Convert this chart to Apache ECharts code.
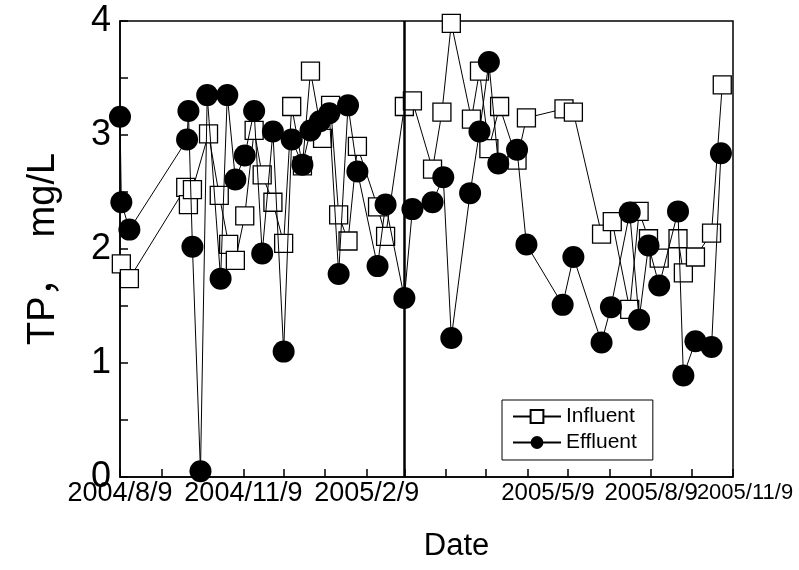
<!DOCTYPE html>
<html>
<head>
<meta charset="utf-8">
<script src="https://cdn.jsdelivr.net/npm/echarts@6/dist/echarts.min.js"></script>
<style>
html,body{margin:0;padding:0;background:#fff;}
#chart{width:799px;height:570px;}
</style>
</head>
<body>
<div id="chart"></div>
<script>
// ---- data ----
const influentDates = ['2004-08-10','2004-08-16','2004-09-27','2004-09-29','2004-10-02','2004-10-14','2004-10-22','2004-10-29','2004-11-03','2004-11-10','2004-11-17','2004-11-23','2004-12-01','2004-12-09','2004-12-15','2004-12-23','2004-12-29','2005-01-07','2005-01-13','2005-01-19','2005-01-26','2005-02-02','2005-02-17','2005-02-23','2005-03-09','2005-03-15','2005-03-30','2005-04-06','2005-04-13','2005-04-28','2005-05-04','2005-05-11','2005-05-19','2005-06-01','2005-06-08','2005-07-06','2005-07-13','2005-08-03','2005-08-11','2005-08-24','2005-08-31','2005-09-07','2005-09-15','2005-09-29','2005-10-03','2005-10-12','2005-10-24','2005-11-01'];
const influentValues = [1.87,1.74,2.54,2.39,2.52,3.01,2.47,2.04,1.90,2.29,3.04,2.65,2.41,2.05,3.25,2.73,3.56,2.97,3.26,2.30,2.07,2.90,2.37,2.11,3.25,3.30,2.70,3.20,3.98,3.14,3.56,2.88,3.25,2.78,3.15,3.23,3.20,2.13,2.24,1.47,2.33,2.09,1.92,2.09,1.79,1.93,2.14,3.44];

const effluentDates = ['2004-08-09','2004-08-10','2004-08-16','2004-09-28','2004-09-29','2004-10-02','2004-10-08','2004-10-13','2004-10-23','2004-10-28','2004-11-03','2004-11-10','2004-11-17','2004-11-23','2004-12-01','2004-12-09','2004-12-15','2004-12-23','2004-12-29','2005-01-05','2005-01-12','2005-01-19','2005-01-26','2005-02-02','2005-02-17','2005-02-23','2005-03-09','2005-03-15','2005-03-30','2005-04-07','2005-04-13','2005-04-27','2005-05-04','2005-05-11','2005-05-18','2005-06-01','2005-06-08','2005-07-05','2005-07-13','2005-08-03','2005-08-10','2005-08-24','2005-08-31','2005-09-07','2005-09-15','2005-09-29','2005-10-03','2005-10-12','2005-10-24','2005-10-31'];
const effluentValues = [3.16,2.41,2.17,2.96,3.21,2.02,0.05,3.35,1.74,3.35,2.61,2.82,3.21,1.96,3.03,1.10,2.96,2.74,3.04,3.12,3.19,1.78,3.26,2.68,1.85,2.39,1.57,2.35,2.41,2.63,1.22,2.49,3.03,3.64,2.75,2.87,2.04,1.51,1.93,1.18,1.49,2.32,1.38,2.03,1.68,2.33,0.89,1.19,1.14,2.84];

const xTickLabels = ['2004/8/9','2004/11/9','2005/2/9','2005/5/9','2005/8/9','2005/11/9'];
const yTickLabels = ['0','1','2','3','4'];
const seriesNames = ['Influent','Effluent'];
const dividerDate = '2005-03-09';
const startDate = '2004-08-09';
const endDate = '2005-11-09';

// ---- helpers ----
function dayOf(s){
  const p = s.split('-').map(Number);
  const q = startDate.split('-').map(Number);
  return Math.round((Date.UTC(p[0],p[1]-1,p[2]) - Date.UTC(q[0],q[1]-1,q[2]))/864e5);
}
const maxDay = dayOf(endDate);
// monthly ticks on the 9th
const tickDays = [];
for (let i = 0; i <= 15; i++) {
  const y = 2004 + Math.floor((7 + i)/12), m = (7 + i) % 12;
  tickDays.push(Math.round((Date.UTC(y,m,9) - Date.UTC(2004,7,9))/864e5));
}
// where the reference places its date labels (in days along the axis);
// 440 is an empty spacer label so the last label keeps its neighbour visible
const labelPos = [0, 92, 184, 319, 396, 440, 457];
const labelText = {0:xTickLabels[0], 92:xTickLabels[1], 184:xTickLabels[2], 319:xTickLabels[3], 396:xTickLabels[4], 457:xTickLabels[5]};

const influentData = influentDates.map((d,i)=>[dayOf(d), influentValues[i]]);
const effluentData = effluentDates.map((d,i)=>[dayOf(d), effluentValues[i]]);

const FONT = '"Liberation Sans", Arial, "Noto Sans CJK SC", sans-serif';

const chart = echarts.init(document.getElementById('chart'), null, {renderer:'canvas'});
chart.setOption({
  animation:false,
  backgroundColor:'#fff',
  textStyle:{fontFamily:FONT, color:'#000'},
  grid:{left:120, right:66, top:21, bottom:93, containLabel:false, outerBoundsMode:'none',
        show:true, borderColor:'#000', borderWidth:1.5, backgroundColor:'transparent'},
  legend:{
    data:seriesNames,
    orient:'vertical', left:502, top:400,
    borderColor:'#000', borderWidth:1, padding:[6,16,7,10],
    itemWidth:48, itemHeight:16, itemGap:5,
    textStyle:{fontFamily:FONT, fontSize:21, color:'#000'}
  },
  xAxis:{
    type:'value', min:0, max:maxDay,
    name:'Date', nameLocation:'middle', nameGap:54,
    nameTextStyle:{fontFamily:FONT, fontSize:31, color:'#000', padding:[0,0,0,60]},
    axisLine:{lineStyle:{color:'#000', width:1.5}},
    axisTick:{inside:true, length:8, customValues:tickDays, lineStyle:{color:'#000', width:1.5}},
    axisLabel:{
      customValues:labelPos, margin:3, fontSize:27, color:'#000', fontFamily:FONT,
      hideOverlap:false, showMinLabel:true, showMaxLabel:true,
      formatter:function(v){
        const t = labelText[v];
        if (t === undefined) return '';
        if (v === maxDay) return '{last|' + t + '}';
        if (v > 300) return '{n|' + t + '}';
        return t;
      },
      rich:{
        n:{fontSize:24, fontFamily:FONT, color:'#000', padding:[1,0,0,0]},
        last:{fontSize:22, fontFamily:FONT, color:'#000', padding:[2,0,0,24]}
      }
    },
    splitLine:{show:false}
  },
  yAxis:{
    type:'value', min:0, max:4, interval:0.5,
    name:'TP，  mg/L', nameLocation:'middle', nameGap:57, nameRotate:90,
    nameTextStyle:{fontFamily:FONT, fontSize:38, color:'#000'},
    axisLine:{show:true, lineStyle:{color:'#000', width:1.5}},
    axisTick:{show:true, inside:true, length:8, lineStyle:{color:'#000', width:1.5}},
    axisLabel:{
      margin:9, fontSize:36, color:'#000', fontFamily:FONT,
      formatter:function(v){ return Number.isInteger(v) ? yTickLabels[v] : ''; }
    },
    splitLine:{show:false}
  },
  series:[
    {
      name:seriesNames[0], type:'line', data:influentData,
      symbol:'rect', symbolSize:18, showAllSymbol:true,
      itemStyle:{color:'#fff', borderColor:'#000', borderWidth:1.3},
      lineStyle:{color:'#000', width:1},
      z:2
    },
    {
      name:seriesNames[1], type:'line', data:effluentData,
      symbol:'circle', symbolSize:22, showAllSymbol:true,
      itemStyle:{color:'#000', borderColor:'#000', borderWidth:0},
      lineStyle:{color:'#000', width:1},
      z:3,
      markLine:{
        silent:true, symbol:['none','none'], label:{show:false},
        lineStyle:{color:'#000', width:2.5, type:'solid'},
        data:[{xAxis:dayOf(dividerDate)}]
      }
    }
  ]
});
</script>
</body>
</html>
